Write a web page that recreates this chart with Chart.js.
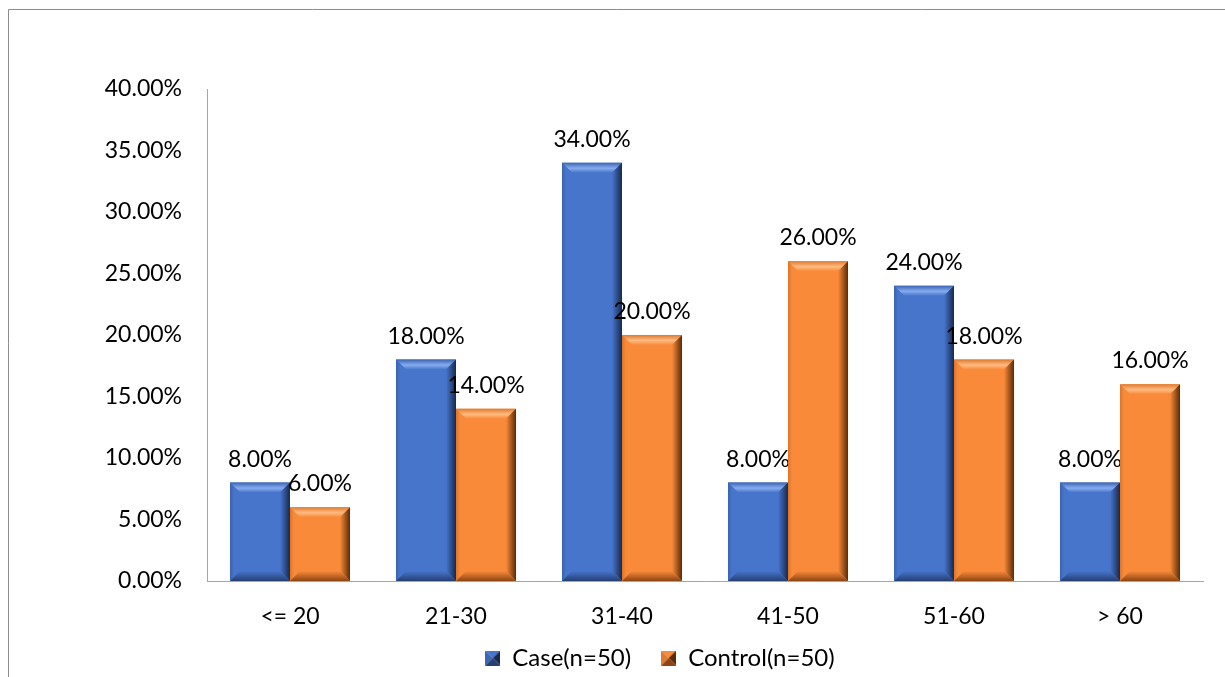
<!DOCTYPE html>
<html>
<head>
<meta charset="utf-8">
<script src="https://cdn.jsdelivr.net/npm/chart.js@4.4.0/dist/chart.umd.min.js"></script>
<style>
  html, body { margin: 0; padding: 0; background: #ffffff; }
  #wrap { width: 1225px; height: 677px; }
</style>
</head>
<body>
<div id="wrap"><canvas id="ageChart" width="1225" height="677"></canvas></div>
<script>
// Age groups and share of each group
const categories = ['<= 20', '21-30', '31-40', '41-50', '51-60', '> 60'];
const caseValues = [8, 18, 34, 8, 24, 8];
const controlValues = [6, 14, 20, 26, 18, 16];
const seriesNames = ['Case(n=50)', 'Control(n=50)'];
const yTicks = [0, 5, 10, 15, 20, 25, 30, 35, 40];

const FONT = 'Lato, "Noto Sans", sans-serif';
const palette = {
    blue: { main: '#4775cc', edge: '#3d66b4', light: '#86acee', side: '#3a62ae', dark: '#16294e', bottom: '#263f73' },
    orange: { main: '#f98a3a', edge: '#e07a30', light: '#ffbb80', side: '#dc7428', dark: '#5c2a06', bottom: '#8e4512' }
};

// little bevelled square used as legend marker
function legendIcon(c) {
    const s = 15, cv = document.createElement('canvas');
    cv.width = s; cv.height = s;
    const g = cv.getContext('2d');
    const tri = (pts, col) => {
        g.beginPath();
        g.moveTo(pts[0], pts[1]); g.lineTo(pts[2], pts[3]); g.lineTo(pts[4], pts[5]);
        g.closePath(); g.fillStyle = col; g.fill();
    };
    const m = s / 2;
    tri([0, 0, s, 0, m, m], c.main);
    tri([0, 0, m, m, 0, s], c.edge);
    tri([s, 0, s, s, m, m], c.dark);
    tri([0, s, s, s, m, m], c.bottom);
    return cv;
}

// frame line at top and left like the original picture
const framePlugin = {
    id: 'frame',
    beforeDraw(chart) {
        const ctx = chart.ctx;
        ctx.save();
        ctx.strokeStyle = '#8c8c8c';
        ctx.lineWidth = 1;
        ctx.beginPath();
        ctx.moveTo(8.5, 677);
        ctx.lineTo(8.5, 9.5);
        ctx.lineTo(1225, 9.5);
        ctx.stroke();
        ctx.restore();
    }
};

// bevel shading on top of each bar + value labels
const bevelPlugin = {
    id: 'bevel',
    afterDatasetsDraw(chart) {
        const ctx = chart.ctx;
        chart.data.datasets.forEach((ds, di) => {
            const c = di === 0 ? palette.blue : palette.orange;
            chart.getDatasetMeta(di).data.forEach((bar, i) => {
                const l = bar.x - bar.width / 2, r = bar.x + bar.width / 2;
                const t = bar.y, b = bar.base;
                const bv = Math.min(10, (b - t) / 2);
                const poly = (pts, fill) => {
                    ctx.beginPath();
                    ctx.moveTo(pts[0][0], pts[0][1]);
                    pts.slice(1).forEach(p => ctx.lineTo(p[0], p[1]));
                    ctx.closePath();
                    ctx.fillStyle = fill;
                    ctx.fill();
                };
                ctx.save();
                // top
                let gr = ctx.createLinearGradient(0, t, 0, t + bv);
                gr.addColorStop(0, c.edge);
                gr.addColorStop(0.55, c.light);
                gr.addColorStop(1, c.main);
                poly([[l, t], [r, t], [r - bv, t + bv], [l + bv, t + bv]], gr);
                // left
                gr = ctx.createLinearGradient(l, 0, l + bv, 0);
                gr.addColorStop(0, c.side);
                gr.addColorStop(0.4, c.main);
                gr.addColorStop(1, c.main);
                poly([[l, t], [l + bv, t + bv], [l + bv, b - bv], [l, b]], gr);
                // right
                gr = ctx.createLinearGradient(r - bv, 0, r, 0);
                gr.addColorStop(0, c.main);
                gr.addColorStop(1, c.dark);
                poly([[r, t], [r, b], [r - bv, b - bv], [r - bv, t + bv]], gr);
                // bottom
                gr = ctx.createLinearGradient(0, b - bv, 0, b);
                gr.addColorStop(0, c.main);
                gr.addColorStop(1, c.bottom);
                poly([[l, b], [r, b], [r - bv, b - bv], [l + bv, b - bv]], gr);

                ctx.fillStyle = '#000000';
                ctx.font = '23px ' + FONT;
                ctx.textAlign = 'center';
                ctx.textBaseline = 'alphabetic';
                ctx.fillText(ds.data[i].toFixed(2) + '%', bar.x, t - 16);
                ctx.restore();
            });
        });
    }
};

// tick labels may sit outside the (squeezed) axis boxes, so no clipping
const noLabelClip = scale => { scale._computeLabelArea = () => undefined; };

const ageChart = new Chart(document.getElementById('ageChart'), {
    type: 'bar',
    data: {
        labels: categories,
        datasets: [
            { label: seriesNames[0], data: caseValues, backgroundColor: palette.blue.main, pointStyle: legendIcon(palette.blue) },
            { label: seriesNames[1], data: controlValues, backgroundColor: palette.orange.main, pointStyle: legendIcon(palette.orange) }
        ]
    },
    options: {
        responsive: false,
        animation: false,
        devicePixelRatio: 1,
        categoryPercentage: 0.723,
        barPercentage: 1,
        layout: { padding: { left: 117, right: 22, top: 89, bottom: -3 } },
        scales: {
            x: {
                grid: { display: false, drawTicks: false },
                border: { color: '#a6a6a6', width: 1 },
                ticks: { color: '#000000', font: { family: FONT, size: 23 }, padding: 22 },
                afterFit(scale) { scale.height = 35; noLabelClip(scale); }
            },
            y: {
                min: 0,
                max: 40,
                afterBuildTicks(scale) { scale.ticks = yTicks.map(v => ({ value: v })); },
                grid: { display: false, drawTicks: false },
                border: { color: '#a6a6a6', width: 1 },
                ticks: {
                    color: '#000000',
                    font: { family: FONT, size: 23 },
                    padding: 25,
                    callback: v => v.toFixed(2) + '%'
                },
                afterFit(scale) { scale.width = 90; noLabelClip(scale); }
            }
        },
        plugins: {
            legend: {
                position: 'bottom',
                labels: {
                    usePointStyle: true,
                    pointStyleWidth: 15,
                    color: '#000000',
                    font: { family: FONT, size: 24 },
                    padding: 30
                }
            },
            tooltip: { enabled: false }
        }
    },
    plugins: [framePlugin, bevelPlugin]
});
</script>
</body>
</html>
